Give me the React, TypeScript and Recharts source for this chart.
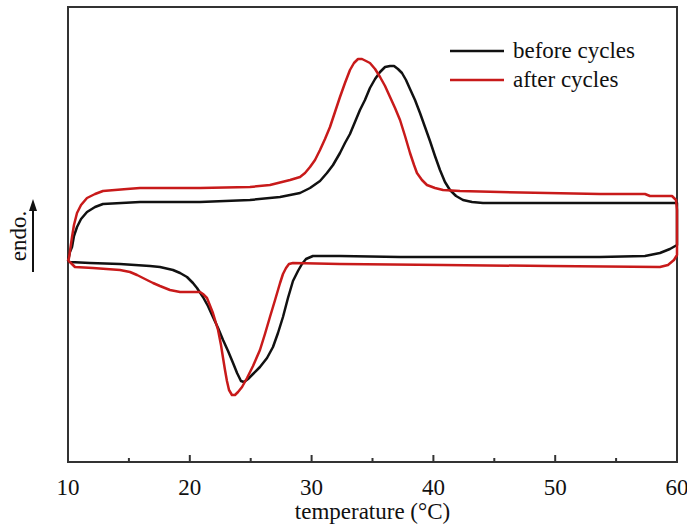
import React from "react";
import {
  LineChart,
  Line,
  XAxis,
  YAxis,
  ReferenceArea,
  Legend,
} from "recharts";

// DSC loops: heating branch (endo peak) left→right, then cooling branch right→left
const beforeTemp = [
  10.0, 10.16, 10.33, 10.49, 10.74, 11.07, 11.56, 12.22, 12.87, 15.91, 20.84,
  24.94, 27.41, 29.05, 29.87, 30.69, 31.26, 31.76, 32.33, 32.74, 33.15, 33.56,
  33.97, 34.38, 34.79, 35.21, 35.62, 36.03, 36.44, 36.77, 37.09, 37.42, 37.75,
  38.08, 38.49, 38.9, 39.31, 39.72, 40.13, 40.54, 40.95, 41.36, 41.86, 42.43,
  43.17, 44.07, 49.57, 60.0,
  60.0, 59.42, 58.6, 57.37, 53.68, 45.47, 37.26, 32.33, 30.11, 29.54, 29.21,
  28.88, 28.47, 28.06, 27.65, 27.24, 26.83, 26.34, 25.76, 25.19, 24.78, 24.45,
  24.2, 23.88, 23.55, 23.14, 22.73, 22.32, 21.9, 21.49, 21.08, 20.59, 20.26,
  19.77, 19.2, 18.62, 17.55, 16.73, 14.27, 11.81, 10.16, 10.0,
];
const beforeFlow = [
  201, 210, 215, 226, 235, 243, 250, 255, 258, 260, 260,
  262, 265, 269, 274, 281, 289, 297, 309, 319, 328, 340,
  352, 362, 374, 383, 390, 395, 396, 396, 393, 389, 382,
  373, 362, 349, 335, 321, 306, 292, 280, 272, 266, 262,
  260, 259, 259, 259,
  217, 213, 209, 206, 205, 205, 205, 206, 206, 203, 198,
  191, 181, 164, 145, 129, 115, 104, 95, 88, 83, 80,
  81, 89, 99, 111, 122, 134, 145, 156, 165, 174, 179,
  185, 189, 192, 195, 196, 198, 199, 200, 201,
];

const afterTemp = [
  10.0, 10.08, 10.33, 10.49, 10.74, 11.07, 11.56, 12.22, 12.87, 14.84, 15.91,
  20.84, 24.94, 26.58, 28.23, 29.05, 29.46, 29.87, 30.28, 30.69, 31.1, 31.51,
  31.92, 32.33, 32.74, 33.15, 33.48, 33.81, 34.14, 34.47, 34.79, 35.21, 35.62,
  36.03, 36.44, 36.85, 37.26, 37.67, 38.08, 38.41, 38.65, 39.06, 39.47, 40.13,
  40.79, 42.18, 45.47, 53.68, 57.37, 57.78, 59.59, 59.92, 60.0,
  60.0, 59.75, 59.26, 58.6, 49.57, 40.79, 32.33, 28.47, 28.14, 27.9, 27.65,
  27.41, 27.0, 26.58, 26.17, 25.76, 25.19, 24.7, 24.29, 23.96, 23.71, 23.46,
  23.22, 23.05, 22.89, 22.73, 22.56, 22.32, 21.9, 21.41, 21.08, 20.84, 19.2,
  18.37, 17.55, 16.98, 16.32, 15.67, 15.09, 14.27, 12.05, 10.57, 10.16, 10.0,
];
const afterFlow = [
  201, 204, 225, 237, 249, 257, 264, 268, 271, 273, 274,
  274, 275, 277, 282, 285, 289, 295, 302, 312, 323, 335,
  350, 365, 379, 392, 399, 403, 403, 401, 399, 393, 385,
  376, 365, 354, 342, 326, 309, 297, 289, 282, 277, 274,
  272, 271, 270, 268, 268, 266, 266, 262, 252,
  207, 202, 197, 195, 196, 197, 198, 199, 198, 194, 188,
  179, 162, 145, 128, 112, 96, 84, 75, 70, 67, 67,
  72, 81, 92, 104, 117, 132, 149, 164, 168, 170, 170,
  172, 176, 179, 183, 187, 190, 192, 194, 195, 200, 201,
];

const xTicks = [10, 15, 20, 25, 30, 35, 40, 45, 50, 55, 60];

const series = [
  { name: "before cycles", temp: beforeTemp, flow: beforeFlow, color: "#111111" },
  { name: "after cycles", temp: afterTemp, flow: afterFlow, color: "#c81a1a" },
];

const FONT = "'Liberation Serif', 'Times New Roman', serif";

const toPoints = (temp: number[], flow: number[]) =>
  temp.map((t, i) => ({ temp: t, flow: flow[i] }));

const TempTick = (props: any) => {
  const { x, y, payload } = props;
  const major = payload.value % 10 === 0;
  return (
    <g>
      <line x1={x} x2={x} y1={y} y2={y - (major ? 7 : 4)} stroke="#333" strokeWidth={2} />
      {major && (
        <text x={x} y={y + 33} textAnchor="middle" fontFamily={FONT} fontSize={23} fill="#111">
          {payload.value}
        </text>
      )}
    </g>
  );
};

const LegendBox = () => (
  <div style={{ fontFamily: FONT, fontSize: 23, color: "#111" }}>
    {series.map((s) => (
      <div key={s.name} style={{ display: "flex", alignItems: "center", height: 29 }}>
        <svg width={54} height={4} style={{ marginRight: 9 }}>
          <line x1={0} x2={54} y1={2} y2={2} stroke={s.color} strokeWidth={2.5} />
        </svg>
        <span>{s.name}</span>
      </div>
    ))}
  </div>
);

export default function App() {
  return (
    <div style={{ position: "absolute", left: 0, top: 0, background: "#fff" }}>
      <LineChart
        width={687}
        height={525}
        margin={{ top: 7, right: 10, left: 8, bottom: 13 }}
      >
        <XAxis
          type="number"
          dataKey="temp"
          domain={[10, 60]}
          ticks={xTicks}
          interval={0}
          height={50}
          axisLine={false}
          tickLine={false}
          tickSize={0}
          tickMargin={0}
          tick={<TempTick />}
          label={{
            content: () => (
              <text x={372.5} y={519} textAnchor="middle" fontFamily={FONT} fontSize={23} fill="#111">
                temperature (°C)
              </text>
            ),
          }}
        />
        <YAxis
          type="number"
          domain={[0, 455]}
          width={60}
          tick={false}
          tickLine={false}
          axisLine={false}
          label={{
            content: () => (
              <g>
                <text
                  x={0}
                  y={0}
                  transform="translate(26 236) rotate(-90)"
                  textAnchor="middle"
                  fontFamily={FONT}
                  fontSize={23}
                  fill="#111"
                >
                  endo.
                </text>
                <line x1={33} x2={33} y1={272} y2={208} stroke="#111" strokeWidth={2} />
                <path d="M33 199 L29 211 L37 211 Z" fill="#111" />
              </g>
            ),
          }}
        />
        <ReferenceArea
          x1={10}
          x2={60}
          y1={0}
          y2={455}
          fill="none"
          stroke="#333"
          strokeWidth={2}
        />
        {series.map((s) => (
          <Line
            key={s.name}
            data={toPoints(s.temp, s.flow)}
            dataKey="flow"
            name={s.name}
            type="linear"
            stroke={s.color}
            strokeWidth={2.5}
            strokeLinejoin="round"
            dot={false}
            activeDot={false}
            isAnimationActive={false}
          />
        ))}
        <Legend
          layout="vertical"
          align="center"
          verticalAlign="middle"
          wrapperStyle={{ position: "absolute", left: 450, top: 36, width: "auto" }}
          content={() => <LegendBox />}
        />
      </LineChart>
    </div>
  );
}
